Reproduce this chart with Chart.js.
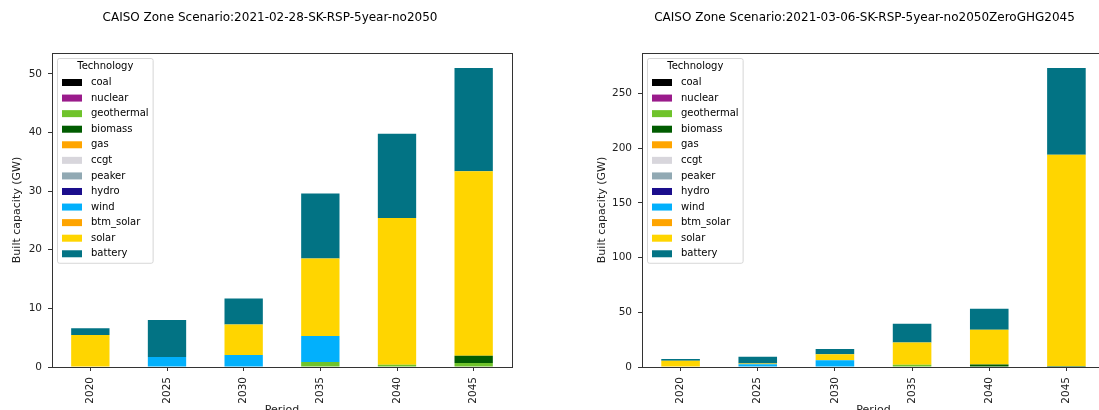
<!DOCTYPE html>
<html>
<head>
<meta charset="utf-8">
<script src="https://cdn.jsdelivr.net/npm/chart.js@4.4.1/dist/chart.umd.min.js"></script>
<style>
  html, body { margin: 0; padding: 0; background: #fff; overflow: hidden; width: 1099px; height: 410px; }
  .panel { position: absolute; top: 0; height: 425px; width: 540px; }
  #leftPanel { left: 0; }
  #rightPanel { left: 585px; }
</style>
</head>
<body>
<div class="panel" id="leftPanel"><canvas id="chartNo2050"></canvas></div>
<div class="panel" id="rightPanel"><canvas id="chartZeroGhg"></canvas></div>
<script>
const FONT = 'DejaVu Sans';

const periods = ['2020', '2025', '2030', '2035', '2040', '2045'];
const technologies = ['coal', 'nuclear', 'geothermal', 'biomass', 'gas', 'ccgt', 'peaker', 'hydro', 'wind', 'btm_solar', 'solar', 'battery'];
const techColors = ['#000000', '#9a1b8b', '#6fc32b', '#015c01', '#ffa500', '#d8d6dc', '#91a9b3', '#1a0d8c', '#02b0fc', '#fea400', '#ffd500', '#027384'];

const none = [0, 0, 0, 0, 0, 0];

// 2021-02-28-SK-RSP-5year-no2050 (GW)
const no2050Geothermal = [0, 0, 0, 0.85, 0.4, 0.7];
const no2050Biomass = [0, 0, 0, 0, 0, 1.2];
const no2050Wind = [0, 1.7, 2.05, 4.45, 0, 0];
const no2050Solar = [5.45, 0, 5.2, 13.2, 25.0, 31.5];
const no2050Battery = [1.15, 6.3, 4.45, 11.1, 14.4, 17.6];

// 2021-03-06-SK-RSP-5year-no2050ZeroGHG2045 (GW)
const zeroGhgGeothermal = [0, 0, 0, 2.0, 0, 0];
const zeroGhgBiomass = [0, 0, 0, 0, 2.2, 0.8];
const zeroGhgWind = [0, 2.5, 6.1, 0, 0, 0];
const zeroGhgSolar = [5.7, 0.8, 5.5, 20.5, 31.8, 193.2];
const zeroGhgBattery = [1.6, 6.0, 4.8, 17.0, 19.2, 79.3];

const no2050Series = [none, none, no2050Geothermal, no2050Biomass, none, none, none, none, no2050Wind, none, no2050Solar, no2050Battery];
const zeroGhgSeries = [none, none, zeroGhgGeothermal, zeroGhgBiomass, none, none, none, none, zeroGhgWind, none, zeroGhgSolar, zeroGhgBattery];

// 枠線（上下左右）
const frameBox = {
    id: 'frameBox',
    afterDraw(chart) {
        const { ctx, chartArea: a } = chart;
        ctx.save();
        ctx.strokeStyle = '#333';
        ctx.lineWidth = 1;
        ctx.strokeRect(Math.round(a.left) + 0.5, Math.round(a.top) + 0.5, Math.round(a.right - a.left), Math.round(a.bottom - a.top));
        ctx.restore();
    }
};

// グラフ上部のタイトル
const panelTitle = {
    id: 'panelTitle',
    afterDraw(chart, args, opts) {
        const { ctx, chartArea: a } = chart;
        ctx.save();
        ctx.font = '12px "' + FONT + '"';
        ctx.fillStyle = '#000';
        ctx.textAlign = 'center';
        ctx.textBaseline = 'middle';
        ctx.fillText(opts.text, (a.left + a.right) / 2 + opts.dx, 18);
        ctx.restore();
    }
};

// プロット内左上の凡例
const boxLegend = {
    id: 'boxLegend',
    afterDatasetsDraw(chart) {
        const { ctx, chartArea: a } = chart;
        const sets = chart.data.datasets;
        const rowH = 15.57;
        ctx.save();
        ctx.font = '10px "' + FONT + '"';
        let maxW = 0;
        sets.forEach(ds => { maxW = Math.max(maxW, ctx.measureText(ds.label).width); });
        const x = a.left + 5.5, y = a.top + 5.5;
        const w = 34 + maxW + 4, h = 24 + (sets.length - 1) * rowH + 9.5;

        ctx.fillStyle = 'rgba(255,255,255,0.8)';
        ctx.strokeStyle = 'rgba(204,204,204,0.8)';
        ctx.lineWidth = 1;
        ctx.beginPath();
        ctx.roundRect(x, y, w, h, 2);
        ctx.fill();
        ctx.stroke();

        ctx.fillStyle = '#000';
        ctx.textAlign = 'center';
        ctx.textBaseline = 'middle';
        ctx.fillText('Technology', x + w / 2, y + 8);

        ctx.textAlign = 'left';
        sets.forEach((ds, i) => {
            const cy = y + 24 + i * rowH;
            ctx.fillStyle = ds.backgroundColor;
            ctx.fillRect(x + 4.5, cy - 3.5, 20, 7);
            ctx.fillStyle = '#000';
            ctx.fillText(ds.label, x + 33.5, cy);
        });
        ctx.restore();
    }
};

function makeChart(canvasId, titleText, titleDx, series, stepSize, yWidth, padRight) {
    const datasets = technologies.map((tech, i) => ({
        label: tech,
        data: series[i],
        backgroundColor: techColors[i],
        borderWidth: 0,
        barPercentage: 0.5,
        categoryPercentage: 1.0
    }));

    // 積み上げ合計の最大値に5%の余白
    const totals = periods.map((p, j) => series.reduce((s, arr) => s + arr[j], 0));
    const yMax = Math.max(...totals) * 1.05;

    const tickFont = { family: FONT, size: 10.5 };
    const titleFont = { family: FONT, size: 11 };

    return new Chart(document.getElementById(canvasId), {
        type: 'bar',
        data: { labels: periods, datasets: datasets },
        options: {
            responsive: true,
            maintainAspectRatio: false,
            animation: false,
            layout: { padding: { left: 0, right: padRight, top: 53, bottom: 0 } },
            plugins: {
                legend: { display: false },
                tooltip: { enabled: false },
                panelTitle: { text: titleText, dx: titleDx }
            },
            scales: {
                x: {
                    stacked: true,
                    afterFit: scale => { scale.height = 58; },
                    grid: { display: true, offset: false, drawOnChartArea: false, drawTicks: true, tickLength: 4, color: '#333' },
                    border: { display: false },
                    ticks: { color: '#222', font: tickFont, minRotation: 90, maxRotation: 90, autoSkip: false, padding: 6 },
                    title: { display: true, text: 'Period', color: '#222', font: titleFont, padding: { top: 0, bottom: 8 } }
                },
                y: {
                    stacked: true,
                    min: 0,
                    max: yMax,
                    afterFit: scale => { scale.width = yWidth; },
                    grid: { display: true, drawOnChartArea: false, drawTicks: true, tickLength: 4, color: '#333' },
                    border: { display: false },
                    ticks: { color: '#222', font: tickFont, stepSize: stepSize, includeBounds: false, padding: 6 },
                    title: { display: true, text: 'Built capacity (GW)', color: '#222', font: titleFont, padding: { top: 11, bottom: 0 } }
                }
            }
        },
        plugins: [frameBox, panelTitle, boxLegend]
    });
}

makeChart('chartNo2050', 'CAISO Zone Scenario:2021-02-28-SK-RSP-5year-no2050', -12, no2050Series, 10, 52, 28);
makeChart('chartZeroGhg', 'CAISO Zone Scenario:2021-03-06-SK-RSP-5year-no2050ZeroGHG2045', -9, zeroGhgSeries, 50, 57, 20);
</script>
</body>
</html>
